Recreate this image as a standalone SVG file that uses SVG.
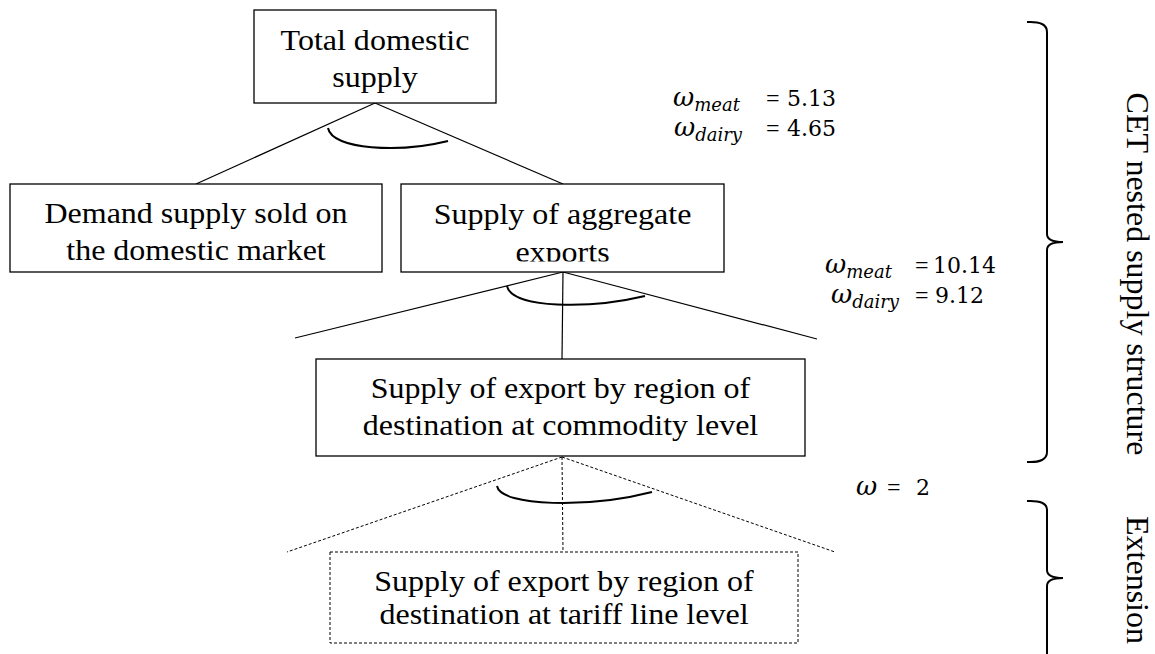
<svg xmlns="http://www.w3.org/2000/svg" width="1155" height="654" viewBox="0 0 1155 654">
<style>
.box{fill:#fff;stroke:#000;stroke-width:1.3}
.dbox{fill:#fff;stroke:#000;stroke-width:1;stroke-dasharray:3 2}
.t{font-family:"Liberation Serif","Times New Roman",serif;font-size:30px;fill:#000;text-anchor:middle}
.conn{stroke:#000;stroke-width:1.2;fill:none}
.dash{stroke:#000;stroke-width:1;fill:none;stroke-dasharray:3 2}
.arc{stroke:#000;stroke-width:2;fill:none}
.m{font-family:"DejaVu Serif","Liberation Serif",serif;font-size:22px;fill:#000}
.w{font-style:italic;font-size:26px}
.s{font-style:italic;font-size:18px}
.eq{font-family:"Liberation Serif",serif;font-size:24px}
.brace{stroke:#000;stroke-width:2;fill:none}
.v{font-family:"Liberation Serif","Times New Roman",serif;font-size:32px;fill:#000;text-anchor:middle}
</style>
<defs>
<clipPath id="clipAgg"><rect x="401" y="184" width="323" height="77.5"/></clipPath>
</defs>
<g id="connectors">
<line class="conn" x1="375" y1="103" x2="196" y2="184"/>
<line class="conn" x1="375" y1="103" x2="563" y2="184"/>
<line class="conn" x1="563" y1="272" x2="295" y2="338"/>
<line class="conn" x1="563" y1="272" x2="562" y2="359"/>
<line class="conn" x1="563" y1="272" x2="817" y2="339"/>
<line class="dash" x1="562" y1="457" x2="287" y2="552"/>
<line class="dash" x1="562" y1="457" x2="563" y2="552"/>
<line class="dash" x1="562" y1="457" x2="835" y2="552"/>
<path class="arc" d="M328,128 C332,150 400,153 448,141"/>
<path class="arc" d="M507,286 C512,309 590,309 645,296"/>
<path class="arc" d="M497,486 C501,507 590,508 652,492"/>
</g>
<g id="n-total">
<rect class="box" x="254" y="10" width="242" height="93"/>
<g transform="translate(375,0) scale(1.067,1)">
<text class="t" x="0" y="50">Total domestic</text>
<text class="t" x="0" y="87">supply</text>
</g>
</g>
<g id="n-domestic">
<rect class="box" x="10" y="184" width="372" height="88"/>
<g transform="translate(196,0) scale(1.067,1)">
<text class="t" x="0" y="223">Demand supply sold on</text>
<text class="t" x="0" y="260">the domestic market</text>
</g>
</g>
<g id="n-aggregate">
<rect class="box" x="401" y="184" width="323" height="88"/>
<g clip-path="url(#clipAgg)">
<g transform="translate(562.5,0) scale(1.067,1)">
<text class="t" x="0" y="224">Supply of aggregate</text>
<text class="t" x="0" y="262">exports</text>
</g>
</g>
</g>
<g id="n-commodity">
<rect class="box" x="316" y="359" width="489" height="97"/>
<g transform="translate(560.5,0) scale(1.067,1)">
<text class="t" x="0" y="398">Supply of export by region of</text>
<text class="t" x="0" y="435">destination at commodity level</text>
</g>
</g>
<g id="n-tariff">
<rect class="dbox" x="330" y="552" width="468" height="91"/>
<g transform="translate(564,0) scale(1.067,1)">
<text class="t" x="0" y="591">Supply of export by region of</text>
<text class="t" x="0" y="624">destination at tariff line level</text>
</g>
</g>
<g id="labels">
<text class="m" x="673" y="106"><tspan class="w">ω</tspan><tspan class="s" dy="5">meat</tspan><tspan class="eq" x="766" dy="-5">=</tspan><tspan x="787">5.13</tspan></text>
<text class="m" x="674" y="136"><tspan class="w">ω</tspan><tspan class="s" dy="5">dairy</tspan><tspan class="eq" x="766" dy="-5">=</tspan><tspan x="787">4.65</tspan></text>
<text class="m" x="825" y="273"><tspan class="w">ω</tspan><tspan class="s" dy="5">meat</tspan><tspan class="eq" x="915" dy="-5">=</tspan><tspan x="933">10.14</tspan></text>
<text class="m" x="831" y="303"><tspan class="w">ω</tspan><tspan class="s" dy="5">dairy</tspan><tspan class="eq" x="915" dy="-5">=</tspan><tspan x="935">9.12</tspan></text>
<text class="m" x="856" y="495"><tspan class="w">ω</tspan><tspan class="eq" x="887">=</tspan><tspan x="916">2</tspan></text>
</g>
<g id="brace-cet">
<path class="brace" d="M1027,22 Q1047,21 1047,32 L1047,234 Q1047,242 1063,242 Q1047,242 1047,250 L1047,452 Q1047,463 1027,462"/>
<text class="v" transform="translate(1127,274) rotate(90)">CET nested supply structure</text>
</g>
<g id="brace-ext">
<path class="brace" d="M1027,501 Q1047,500 1047,510 L1047,570 Q1047,578 1063,578 Q1047,578 1047,586 L1047,654"/>
<text class="v" transform="translate(1127,580) rotate(90)">Extension</text>
</g>
</svg>
